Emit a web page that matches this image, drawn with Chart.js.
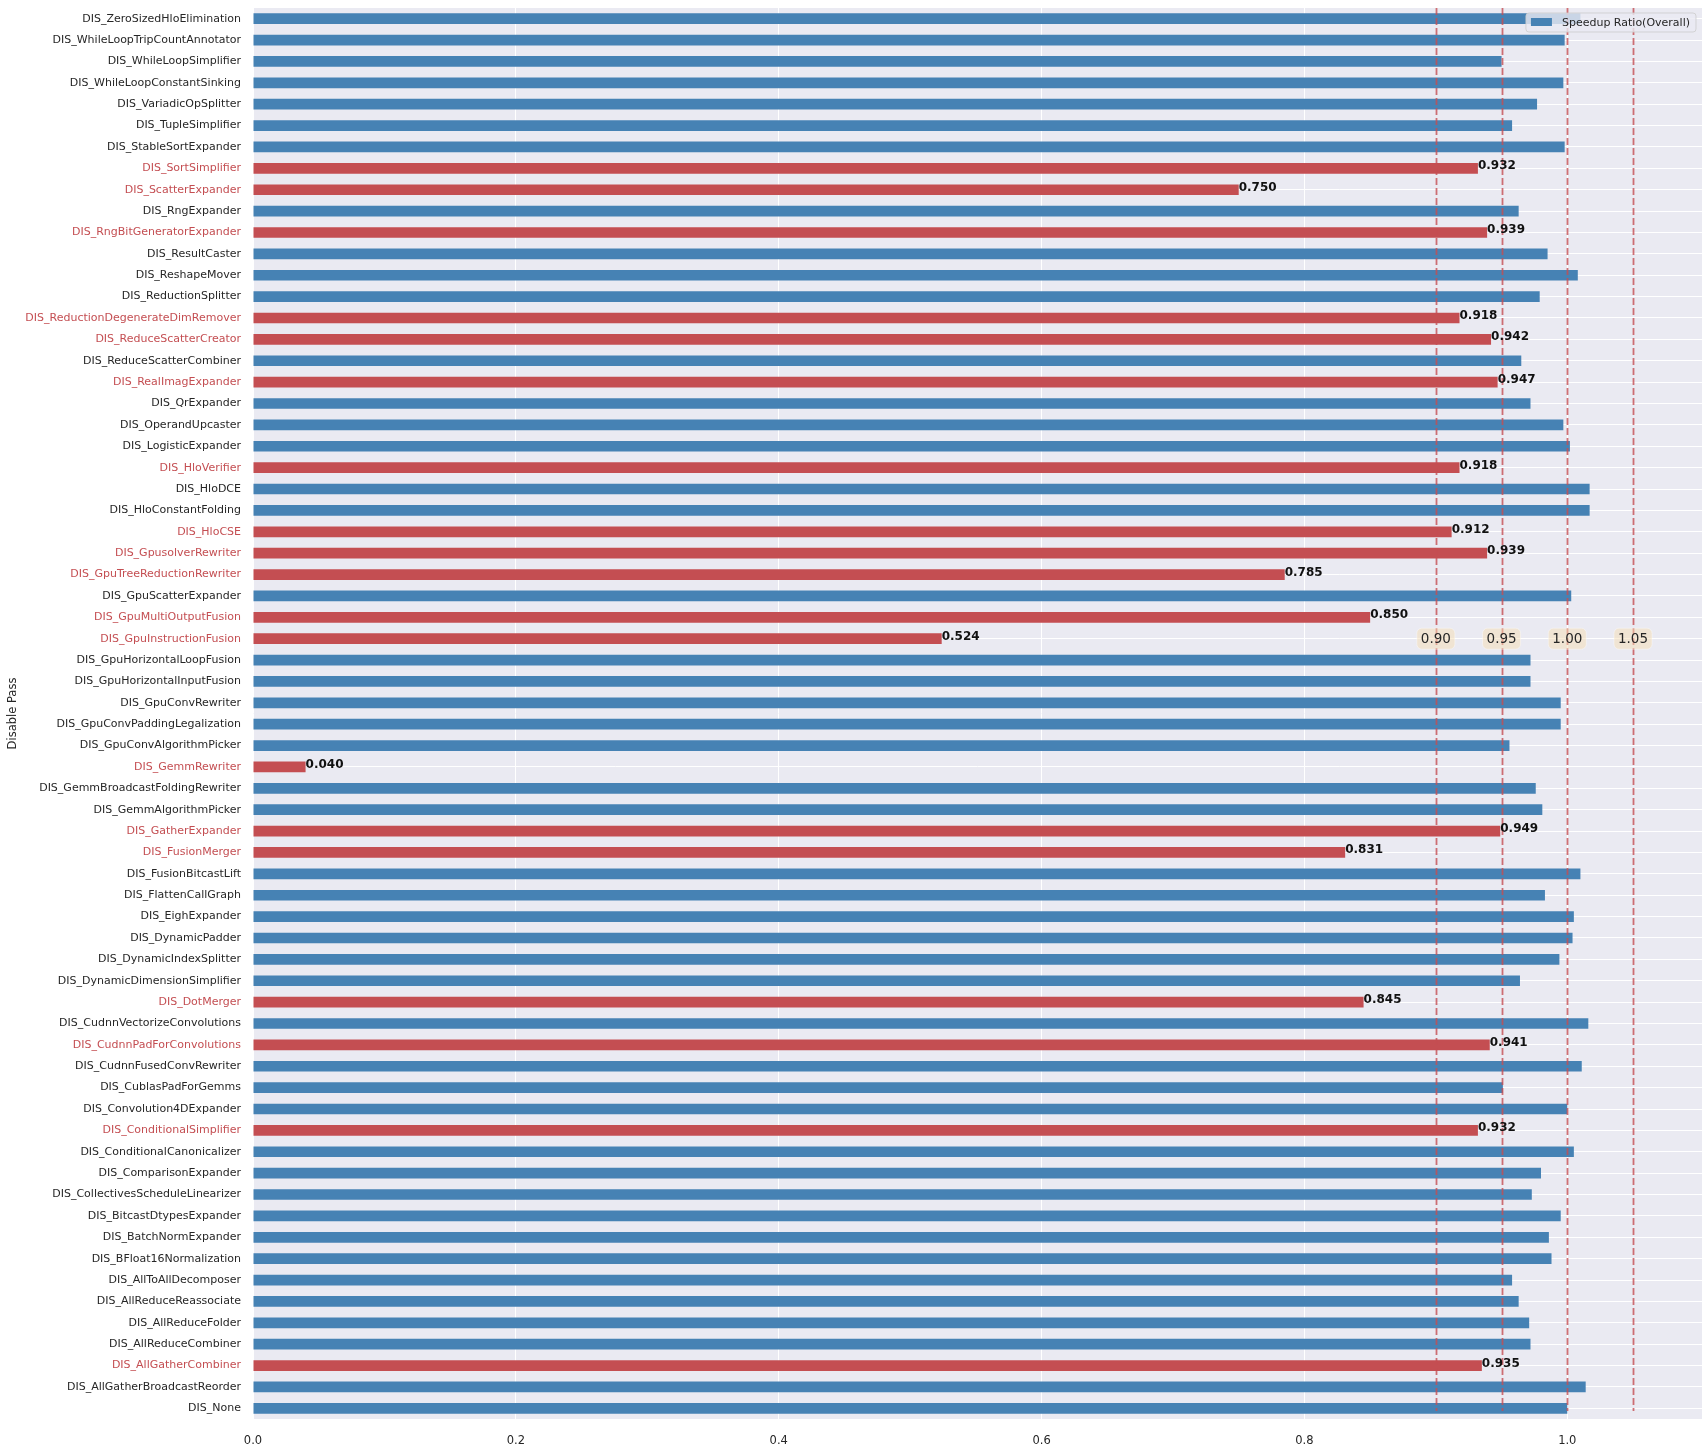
<!DOCTYPE html>
<html>
<head>
<meta charset="utf-8">
<script src="https://cdn.jsdelivr.net/npm/chart.js@4.4.1/dist/chart.umd.min.js"></script>
<style>
    html, body { margin: 0; padding: 0; background: #ffffff; }
    #chart { display: block; }
</style>
</head>
<body>
<canvas id="chart" width="1708" height="1447" style="width:1708px;height:1447px"></canvas>
<script>
// passes, top to bottom as in the figure
const passes = [
    'DIS_ZeroSizedHloElimination', 'DIS_WhileLoopTripCountAnnotator', 'DIS_WhileLoopSimplifier',
    'DIS_WhileLoopConstantSinking', 'DIS_VariadicOpSplitter', 'DIS_TupleSimplifier',
    'DIS_StableSortExpander', 'DIS_SortSimplifier', 'DIS_ScatterExpander', 'DIS_RngExpander',
    'DIS_RngBitGeneratorExpander', 'DIS_ResultCaster', 'DIS_ReshapeMover', 'DIS_ReductionSplitter',
    'DIS_ReductionDegenerateDimRemover', 'DIS_ReduceScatterCreator', 'DIS_ReduceScatterCombiner',
    'DIS_RealImagExpander', 'DIS_QrExpander', 'DIS_OperandUpcaster', 'DIS_LogisticExpander',
    'DIS_HloVerifier', 'DIS_HloDCE', 'DIS_HloConstantFolding', 'DIS_HloCSE', 'DIS_GpusolverRewriter',
    'DIS_GpuTreeReductionRewriter', 'DIS_GpuScatterExpander', 'DIS_GpuMultiOutputFusion',
    'DIS_GpuInstructionFusion', 'DIS_GpuHorizontalLoopFusion', 'DIS_GpuHorizontalInputFusion',
    'DIS_GpuConvRewriter', 'DIS_GpuConvPaddingLegalization', 'DIS_GpuConvAlgorithmPicker',
    'DIS_GemmRewriter', 'DIS_GemmBroadcastFoldingRewriter', 'DIS_GemmAlgorithmPicker',
    'DIS_GatherExpander', 'DIS_FusionMerger', 'DIS_FusionBitcastLift', 'DIS_FlattenCallGraph',
    'DIS_EighExpander', 'DIS_DynamicPadder', 'DIS_DynamicIndexSplitter', 'DIS_DynamicDimensionSimplifier',
    'DIS_DotMerger', 'DIS_CudnnVectorizeConvolutions', 'DIS_CudnnPadForConvolutions',
    'DIS_CudnnFusedConvRewriter', 'DIS_CublasPadForGemms', 'DIS_Convolution4DExpander',
    'DIS_ConditionalSimplifier', 'DIS_ConditionalCanonicalizer', 'DIS_ComparisonExpander',
    'DIS_CollectivesScheduleLinearizer', 'DIS_BitcastDtypesExpander', 'DIS_BatchNormExpander',
    'DIS_BFloat16Normalization', 'DIS_AllToAllDecomposer', 'DIS_AllReduceReassociate',
    'DIS_AllReduceFolder', 'DIS_AllReduceCombiner', 'DIS_AllGatherCombiner',
    'DIS_AllGatherBroadcastReorder', 'DIS_None'
];

const speedup = [
    1.010, 0.998, 0.950, 0.997, 0.977, 0.958, 0.998, 0.932, 0.750, 0.963,
    0.939, 0.985, 1.008, 0.979, 0.918, 0.942, 0.965, 0.947, 0.972, 0.997,
    1.002, 0.918, 1.017, 1.017, 0.912, 0.939, 0.785, 1.003, 0.850, 0.524,
    0.972, 0.972, 0.995, 0.995, 0.956, 0.040, 0.976, 0.981, 0.949, 0.831,
    1.010, 0.983, 1.005, 1.004, 0.994, 0.964, 0.845, 1.016, 0.941, 1.011,
    0.951, 1.000, 0.932, 1.005, 0.980, 0.973, 0.995, 0.986, 0.988, 0.958,
    0.963, 0.971, 0.972, 0.935, 1.014, 1.000
];

const thresholds = [0.90, 0.95, 1.00, 1.05];
const xTicks = [0.0, 0.2, 0.4, 0.6, 0.8, 1.0];
const seriesName = 'Speedup Ratio(Overall)';
const slowLimit = 0.95;
const markerRow = 'DIS_GpuInstructionFusion';

const BLUE = '#4682b4';
const RED = '#c44e52';
const TEXT = '#262626';
const FONT = '"DejaVu Sans", sans-serif';

const isSlow = v => v < slowLimit;

// фон области графика
const plotBackground = {
    id: 'plotBackground',
    beforeDraw(chart) {
        const {ctx, chartArea: a} = chart;
        ctx.save();
        ctx.fillStyle = '#eaeaf2';
        ctx.fillRect(a.left, a.top, a.right - a.left, a.bottom - a.top);
        ctx.restore();
    }
};

const overlays = {
    id: 'overlays',
    afterDatasetsDraw(chart) {
        const {ctx, chartArea: a} = chart;
        const xs = chart.scales.x;
        const ys = chart.scales.y;

        // dashed threshold lines
        ctx.save();
        ctx.strokeStyle = 'rgba(196,78,82,0.8)';
        ctx.lineWidth = 1.8;
        ctx.setLineDash([7, 3]);
        thresholds.forEach(t => {
            const x = Math.round(xs.getPixelForValue(t)) + 0.5;
            ctx.beginPath();
            ctx.moveTo(x, a.top);
            ctx.lineTo(x, a.bottom - 8);
            ctx.stroke();
        });
        ctx.restore();

        // values for slow passes
        ctx.save();
        ctx.font = 'bold 12px ' + FONT;
        ctx.fillStyle = '#111111';
        ctx.textAlign = 'left';
        ctx.textBaseline = 'alphabetic';
        speedup.forEach((v, i) => {
            if (!isSlow(v)) return;
            ctx.fillText(v.toFixed(3), xs.getPixelForValue(v), ys.getPixelForValue(i) + 1);
        });
        ctx.restore();

        // threshold boxes
        const yRow = ys.getPixelForValue(passes.indexOf(markerRow));
        ctx.save();
        ctx.font = '13.5px ' + FONT;
        ctx.textAlign = 'center';
        ctx.textBaseline = 'middle';
        thresholds.forEach(t => {
            const x = xs.getPixelForValue(t);
            const w = 38, h = 21;
            ctx.beginPath();
            ctx.roundRect(x - w / 2, yRow - h / 2, w, h, 5);
            ctx.fillStyle = 'rgba(245,222,179,0.5)';
            ctx.fill();
            ctx.strokeStyle = 'rgba(255,255,255,0.4)';
            ctx.lineWidth = 1;
            ctx.stroke();
            ctx.fillStyle = TEXT;
            ctx.fillText(t.toFixed(2), x, yRow + 1);
        });
        ctx.restore();

        // legend in the top right corner
        ctx.save();
        ctx.font = '11px ' + FONT;
        const tw = ctx.measureText(seriesName).width;
        const bw = tw + 42, bh = 19;
        const bx = a.right - 6 - bw, by = a.top + 5;
        ctx.beginPath();
        ctx.roundRect(bx, by, bw, bh, 3);
        ctx.fillStyle = 'rgba(234,234,242,0.8)';
        ctx.fill();
        ctx.strokeStyle = 'rgba(204,204,204,0.8)';
        ctx.lineWidth = 1;
        ctx.stroke();
        ctx.fillStyle = BLUE;
        ctx.fillRect(bx + 5, by + 5, 21, 8);
        ctx.fillStyle = TEXT;
        ctx.textBaseline = 'middle';
        ctx.fillText(seriesName, bx + 36, by + bh / 2 + 1);
        ctx.restore();
    }
};

new Chart(document.getElementById('chart'), {
    type: 'bar',
    data: {
        labels: passes,
        datasets: [{
            label: seriesName,
            data: speedup,
            backgroundColor: speedup.map(v => isSlow(v) ? RED : BLUE),
            barPercentage: 0.5,
            categoryPercentage: 1.0
        }]
    },
    options: {
        indexAxis: 'y',
        responsive: false,
        animation: false,
        devicePixelRatio: 1,
        layout: { padding: { top: 8, right: 6, left: 0, bottom: 0 } },
        plugins: {
            legend: { display: false },
            tooltip: { enabled: false }
        },
        scales: {
            x: {
                type: 'linear',
                min: 0,
                max: 1.1025,
                border: { display: false },
                grid: { color: '#ffffff', lineWidth: 1, drawTicks: false },
                afterBuildTicks: scale => { scale.ticks = xTicks.map(v => ({value: v})); },
                afterFit: scale => { scale.height = 28; },
                ticks: {
                    padding: 15,
                    color: TEXT,
                    font: { family: FONT, size: 11.5 },
                    callback: v => Number(v).toFixed(1)
                }
            },
            y: {
                type: 'category',
                border: { display: false },
                grid: { color: '#ffffff', lineWidth: 1, drawTicks: false, offset: false },
                afterFit: scale => {
                    scale.width = 253;
                    scale.paddingTop = 0;
                    scale.paddingBottom = 0;
                },
                ticks: {
                    padding: 12,
                    autoSkip: false,
                    font: { family: FONT, size: 11 },
                    color: c => isSlow(speedup[c.index]) ? RED : TEXT
                },
                title: {
                    display: true,
                    text: 'Disable Pass',
                    color: TEXT,
                    font: { family: FONT, size: 11.5 },
                    padding: { top: 6, bottom: 0 }
                }
            }
        }
    },
    plugins: [plotBackground, overlays]
});
</script>
</body>
</html>
